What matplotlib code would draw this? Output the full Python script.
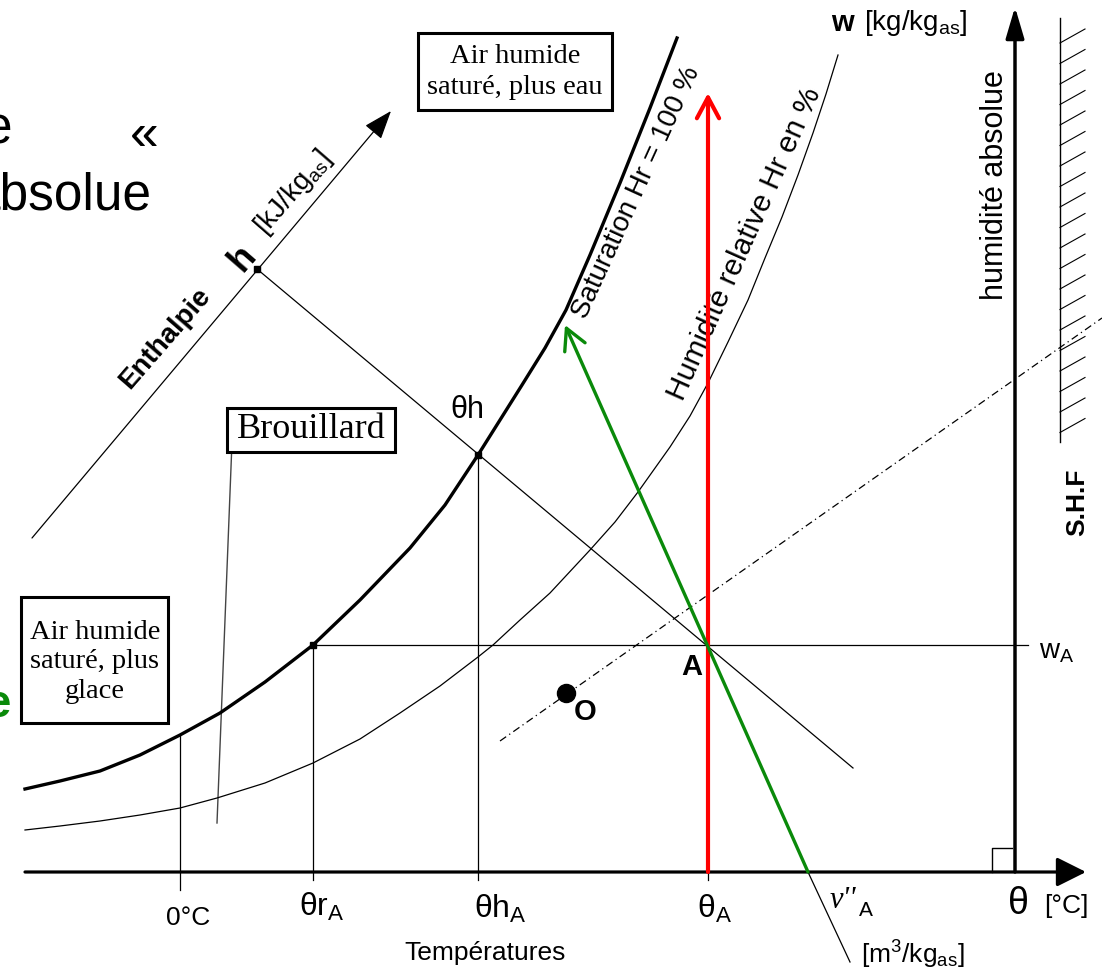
import numpy as np
import matplotlib.pyplot as plt
from matplotlib.patches import Rectangle, FancyArrowPatch

plt.rcParams['font.family'] = ['Liberation Sans', 'DejaVu Sans']
plt.rcParams['mathtext.fontset'] = 'custom'
plt.rcParams['mathtext.rm'] = 'Liberation Sans'
plt.rcParams['mathtext.it'] = 'Liberation Sans:italic'
plt.rcParams['mathtext.bf'] = 'Liberation Sans:bold'

# Sketch of the psychrometric (Mollier) diagram, coordinates (px, y down)
sat_x = [25, 60, 100, 140, 180, 220, 265, 313, 360, 410, 445, 478, 500, 522, 545,
         566, 590, 620, 650, 677]
sat_y = [789, 781, 771, 755, 735, 713, 682, 645, 600, 548, 505, 455, 420, 385, 348,
         310, 255, 183, 108, 38]
hr_x = [25, 60, 100, 140, 180, 217, 265, 313, 360, 400, 440, 478, 493, 520, 550, 590,
        615, 638, 670, 690, 708, 728, 748, 765, 782, 798, 813, 826, 838]
hr_y = [830, 826, 821, 815, 808, 798, 783, 763, 739, 713, 686, 657, 645, 620, 593, 550,
        522, 492, 447, 416, 383, 342, 300, 258, 217, 175, 133, 94, 55]

axis_y = 872          # theta axis
w_axis_x = 1015       # w axis
enth_start = (32, 538)
enth_tip = (391, 111)
pt_h = (257, 269)
pt_theta_h = (478, 455)
pt_theta_r = (313, 645)
pt_A = (708, 645)
pt_O = (566, 693)
isenth_end = (853, 768)
shf_line = ([500, 1102], [741, 318])
vol_foot = (808, 872)
vol_end = (850, 962)
green_tip = (565, 325)
red_tip = (708, 93)
x_zero = 180

fig = plt.figure(figsize=(11.02, 9.71), dpi=100)
ax = fig.add_axes([0, 0, 1, 1])
ax.set_xlim(0, 1102)
ax.set_ylim(971, 0)
ax.axis('off')


def arrow(p0, p1, style, color='k', lw=1.0, ms=20, z=3):
    ax.add_patch(FancyArrowPatch(p0, p1, arrowstyle=style, mutation_scale=ms,
                                 color=color, lw=lw, shrinkA=0, shrinkB=0, zorder=z))


thin = 0.9

# curves
ax.plot(sat_x, sat_y, color='k', lw=2.4, solid_joinstyle='round', zorder=3)
ax.plot(hr_x, hr_y, color='k', lw=thin, zorder=3)

# axes
arrow((25, axis_y), (1086, axis_y), '-|>,head_length=0.9,head_width=0.45', lw=2.3)
arrow((w_axis_x, axis_y), (w_axis_x, 7), '-|>,head_length=0.95,head_width=0.28', lw=2.5)
arrow(enth_start, enth_tip, '-|>,head_length=0.9,head_width=0.33', lw=thin)

# right angle marker
ax.plot([992, 992, 1012], [axis_y, 848, 848], color='k', lw=1.0)

# hatched S.H.F scale
ax.plot([1060, 1060], [18, 442], color='k', lw=1.0)
for yh in np.arange(43, 440, 20.5):
    ax.plot([1060, 1085], [yh, yh - 14], color='k', lw=0.8)

# construction lines
ax.plot([pt_h[0], isenth_end[0]], [pt_h[1], isenth_end[1]], color='k', lw=thin)
ax.plot([pt_theta_r[0], 1028], [pt_A[1], pt_A[1]], color='k', lw=thin)
ax.plot([x_zero, x_zero], [735, 890], color='k', lw=thin)
ax.plot([pt_theta_r[0]] * 2, [pt_theta_r[1], 880], color='k', lw=thin)
ax.plot([pt_theta_h[0]] * 2, [pt_theta_h[1], 880], color='k', lw=thin)
ax.plot([pt_A[0]] * 2, [axis_y, 880], color='k', lw=thin)
ax.plot(shf_line[0], shf_line[1], color='k', lw=thin, ls=(0, (6, 3, 1, 3)))
ax.plot([vol_foot[0], vol_end[0]], [vol_foot[1], vol_end[1]], color='k', lw=thin)
ax.plot([232, 217], [442, 823], color='#444444', lw=1.0)

# points
for p in (pt_h, pt_theta_h, pt_theta_r):
    ax.plot(*p, 's', color='k', ms=4, zorder=4)
ax.plot(*pt_O, 'o', color='k', ms=13, zorder=4)

# coloured arrows
arrow((pt_A[0], axis_y), red_tip, '->,head_length=0.75,head_width=0.4', color='#ff0000', lw=3.0, z=5)
arrow(vol_foot, green_tip, '->,head_length=0.75,head_width=0.4', color='#0a8a0a', lw=2.4, z=5)

# boxes
serif = 'Liberation Serif'
ax.add_patch(Rectangle((418, 33), 194, 77, fill=False, lw=2.2, zorder=4))
ax.text(515, 72, 'Air humide\nsaturé, plus eau', family=serif, fontsize=20.5,
        ha='center', va='center', linespacing=1.35)
ax.add_patch(Rectangle((21, 597), 147, 126, fill=False, lw=2.2, zorder=4))
ax.text(95, 662, 'Air humide\nsaturé, plus\nglace', family=serif, fontsize=20.5,
        ha='center', va='center', linespacing=1.25)
ax.add_patch(Rectangle((227, 408), 168, 44, facecolor='white', edgecolor='k', lw=2.2, zorder=4))
ax.text(311, 429, 'Brouillard', family=serif, fontsize=26, ha='center', va='center', zorder=5)

# labels along the curves (anchored at the start of their baseline)
ax.text(586, 320, 'Saturation Hr = 100 %', fontsize=20, rotation=65.5,
        ha='left', va='baseline', rotation_mode='anchor')
ax.text(683, 402, 'Humidité relative Hr en %', fontsize=21.5, rotation=66,
        ha='left', va='baseline', rotation_mode='anchor')

# labels on the diagram
ax.text(467, 410, 'θh', fontsize=22, ha='center', va='center')
ax.text(165, 338, 'Enthalpie', fontsize=20, weight='bold', rotation=49,
        ha='center', va='center', rotation_mode='anchor')
ax.text(243, 258, 'h', fontsize=26, weight='bold', rotation=49,
        ha='center', va='center', rotation_mode='anchor')
ax.text(293, 193, r'[kJ/kg$_{\mathrm{as}}$]', fontsize=20, rotation=49,
        ha='center', va='center', rotation_mode='anchor')
ax.text(995, 185, 'humidité absolue', fontsize=22, rotation=90, ha='center', va='center')
ax.text(1077, 502, 'S.H.F', fontsize=19, weight='bold', rotation=90, ha='center', va='center')
ax.text(831, 23, 'w', fontsize=21, weight='bold', ha='left', va='center')
ax.text(864, 23, r'[kg/kg$_{\mathrm{as}}$]', fontsize=20, ha='left', va='center')
ax.text(1057, 652, r'w$_{\mathrm{A}}$', fontsize=20, ha='center', va='center')
ax.text(692, 667, 'A', fontsize=21, weight='bold', ha='center', va='center')
ax.text(585, 712, 'O', fontsize=21, weight='bold', ha='center', va='center')

# axis labels
ax.text(188, 918, '0°C', fontsize=19, ha='center', va='center')
ax.text(322, 907, r'θr$_{\mathrm{A}}$', fontsize=23, ha='center', va='center')
ax.text(500, 909, r'θh$_{\mathrm{A}}$', fontsize=23, ha='center', va='center')
ax.text(714, 909, r'θ$_{\mathrm{A}}$', fontsize=23, ha='center', va='center')
ax.text(1018, 904, 'θ', fontsize=27, ha='center', va='center')
ax.text(1066, 906, '[°C]', fontsize=19, ha='center', va='center')
ax.text(485, 953, 'Températures', fontsize=19, ha='center', va='center')
ax.text(843, 900, "ν''", family=serif, style='italic', fontsize=22, ha='center', va='center')
ax.text(866, 911, 'A', fontsize=15, ha='center', va='center')
ax.text(913, 955, r'[m$^{3}$/kg$_{\mathrm{as}}$]', fontsize=19, ha='center', va='center')

# slide text behind the figure, cut at the left edge
ax.text(12, 143, 'e', fontsize=37, ha='right', va='baseline')
ax.text(144, 150, '«', fontsize=37, ha='center', va='baseline')
ax.text(152, 210, 'absolue', fontsize=37, ha='right', va='baseline')
ax.text(10, 717, 'e', fontsize=34, weight='bold', color='#0a8a0a', ha='right', va='baseline')

fig.savefig('out.png', dpi=100)
